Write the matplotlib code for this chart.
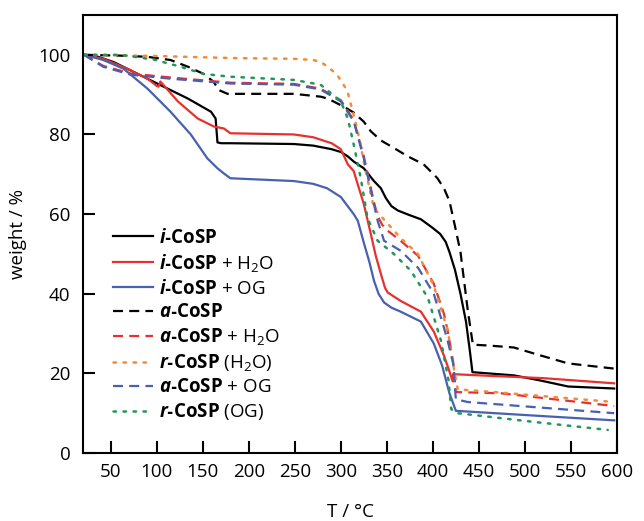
import matplotlib
matplotlib.use("Agg")
import matplotlib.pyplot as plt

plt.rcParams['font.family'] = ['Open Sans', 'DejaVu Sans']
plt.rcParams['mathtext.fontset'] = 'custom'
plt.rcParams['mathtext.rm'] = 'Open Sans'
plt.rcParams['mathtext.it'] = 'Open Sans:italic'
plt.rcParams['mathtext.bf'] = 'Open Sans:bold'
plt.rcParams['mathtext.bfit'] = 'Open Sans:italic:bold'

# ---- TGA data (temperature in °C, residual weight in %) ----
T_i = [21, 35, 53, 75, 104, 134, 159, 164, 166, 170, 180, 249, 270, 290, 300, 307.6, 314, 325, 336,
       343.5, 349, 355, 362, 374, 387, 400, 408, 414, 418, 424, 430, 436, 440, 443, 460, 488, 517,
       547, 597]
w_i = [100, 99.6, 98.2, 95.7, 92.4, 89, 85.7, 84, 78, 77.8, 77.8, 77.6, 77.2, 76.3, 75.6, 74.5, 73.2,
       71.5, 68.3, 66.5, 64, 62, 60.9, 59.8, 58.7, 56.5, 55, 53, 50.5, 46, 40, 33, 26, 20.3, 20,
       19.5, 18.2, 16.7, 16.2]

T_i_h2o = [21, 42, 68, 90, 100, 102, 104, 123, 144.6, 162, 173, 180, 249, 270, 290, 300, 307.6, 314,
           321.7, 325, 332.6, 338, 343.5, 348, 351, 365, 387, 401, 412, 418, 421.5, 422, 460, 520, 597]
w_i_h2o = [100, 99, 96.5, 94, 92.2, 92, 93.3, 88.3, 84, 82, 81.5, 80.3, 80, 79.3, 77.8, 76.3, 72.5,
           70.8, 65, 62.5, 55, 49.5, 45, 41.5, 40.3, 38.2, 35.5, 30.5, 24.5, 20.5, 18, 19.8, 19.4,
           18.8, 17.5]

T_i_og = [21, 42, 64, 90, 115, 137, 155, 166, 173, 180, 249, 270, 285, 300, 314, 318.5, 325, 331,
          336, 341, 347, 355, 365, 387, 401, 410, 418, 425, 510, 597]
w_i_og = [100, 98.7, 96.5, 91.5, 85.7, 80, 74, 71.5, 70.2, 69, 68.3, 67.6, 66.5, 64.3, 60, 58.3, 52.8,
          48, 43.3, 40, 37.8, 36.5, 35.5, 33, 27.5, 22, 15, 10.6, 9.4, 8.2]

T_a = [21, 60, 90, 115, 134, 151, 162, 167, 177, 249, 278, 286, 303, 314, 325, 332.6, 343.5, 351,
       362, 372.8, 390, 405, 412, 418, 424, 430, 438, 443.5, 460, 488, 517, 547, 597]
w_a = [100, 99.8, 99.5, 98.7, 97, 95.2, 93.2, 91.2, 90.2, 90.2, 89.5, 89, 87, 85.5, 83.2, 80.8, 78.5,
       77.5, 76, 74.5, 72.5, 69, 66.5, 63.3, 57, 50.5, 35.7, 27.2, 27, 26.5, 24.5, 22.5, 21.2]

T_a_h2o = [21, 42, 72, 115, 180, 249, 278, 300, 314, 325, 336, 340, 345, 350, 365, 384, 401, 412,
           416, 422, 425, 474, 597]
w_a_h2o = [100, 97.2, 95.3, 94.3, 93, 92.7, 91.5, 88.6, 83.6, 74.5, 63, 59.5, 57.3, 56, 53.3, 49.5,
           42.5, 35, 30.8, 23, 15.3, 15, 11.8]

T_r_h2o = [21, 100, 180, 249, 270, 278, 286, 296, 307, 311, 315, 321, 325, 336, 343.5, 365, 383.7,
           401, 416, 423, 427, 467, 597]
w_r_h2o = [100, 99.7, 99.2, 99, 98.7, 98.2, 97, 95, 91, 87.5, 84, 78, 73, 61.5, 59.5, 54, 50, 42, 31,
           21, 16, 15.3, 12.8]

T_a_og = [21, 42, 72, 115, 180, 249, 278, 300, 314, 325, 336, 340, 347, 365, 384, 401, 412, 416,
          422, 425, 438, 597]
w_a_og = [100, 97, 95, 94, 92.8, 92.5, 91.3, 88.3, 83.3, 74, 62.5, 58.3, 53.3, 50.8, 46.5, 40, 31.5,
          28.3, 22.5, 13.5, 12.8, 10]

T_r_og = [21, 61, 97, 126, 151, 180, 249, 278, 300, 307.6, 314, 321.7, 329, 340, 357.6, 376, 394.6,
          408.7, 417, 420, 427, 510, 590]
w_r_og = [100, 100, 98.8, 97, 95.2, 94.5, 93.7, 92.5, 88.3, 84, 77.5, 69, 59, 53.3, 50, 45.8, 39,
          28.3, 18.3, 11, 10, 7.8, 5.8]

HY = '\u2010'
labels = [
    r'$\mathbfit{i}\mathbf{' + HY + r'CoSP}$',
    r'$\mathbfit{i}\mathbf{' + HY + r'CoSP}$ + H$_2$O',
    r'$\mathbfit{i}\mathbf{' + HY + r'CoSP}$ + OG',
    r'$\mathbfit{a}\mathbf{' + HY + r'CoSP}$',
    r'$\mathbfit{a}\mathbf{' + HY + r'CoSP}$ + H$_2$O',
    r'$\mathbfit{r}\mathbf{' + HY + r'CoSP}$ (H$_2$O)',
    r'$\mathbfit{a}\mathbf{' + HY + r'CoSP}$ + OG',
    r'$\mathbfit{r}\mathbf{' + HY + r'CoSP}$ (OG)',
]

BLACK = '#000000'
RED = '#e8302e'
BLUE = '#4761b0'
ORANGE = '#f28c3a'
GREEN = '#23975a'

dash = (0, (4.5, 2.8))
dot = (0, (1, 3))

series = [
    (T_i, w_i, BLACK, '-'),
    (T_i_h2o, w_i_h2o, RED, '-'),
    (T_i_og, w_i_og, BLUE, '-'),
    (T_a, w_a, BLACK, dash),
    (T_a_h2o, w_a_h2o, RED, dash),
    (T_r_h2o, w_r_h2o, ORANGE, dot),
    (T_a_og, w_a_og, BLUE, dash),
    (T_r_og, w_r_og, GREEN, dot),
]

fig = plt.figure(figsize=(6.44, 5.21), dpi=100)
ax = fig.add_axes([0.129, 0.1305, 0.829, 0.8407])

for (T, w, c, ls), lab in zip(series, labels):
    kw = dict(color=c, lw=1.6, label=lab, linestyle=ls)
    if ls == dot:
        kw.update(dash_capstyle='round', lw=1.8)
    ax.plot(T, w, **kw)

ax.set_xlim(20, 600)
ax.set_ylim(0, 110)
ax.set_xticks(range(50, 601, 50))
ax.set_yticks(range(0, 101, 20))
ax.tick_params(direction='in', length=8.5, width=1.5, labelsize=13.5, pad=7)
ax.tick_params(axis='y', pad=9)
for s in ax.spines.values():
    s.set_linewidth(1.5)

ax.set_xlabel('T / °C', fontsize=13.5, labelpad=16)
ax.set_ylabel('weight / %', fontsize=13.5, labelpad=8)

ax.legend(loc='upper left', bbox_to_anchor=(0.056, 0.514), frameon=False, fontsize=13.5,
          handlelength=2.15, handletextpad=0.3, labelspacing=0.27, borderpad=0, borderaxespad=0)

fig.savefig('out.png', dpi=100)
